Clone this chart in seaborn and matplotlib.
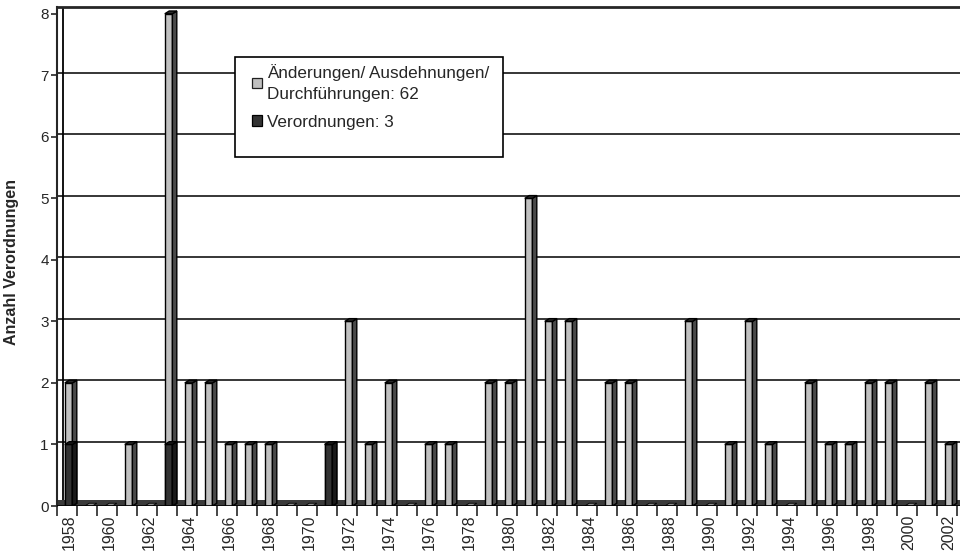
import numpy as np
import pandas as pd
import matplotlib
matplotlib.use("Agg")
import matplotlib.pyplot as plt
from matplotlib.patches import Polygon, Patch, Rectangle
import seaborn as sns

years = list(range(1958, 2003))
aenderungen = [1, 0, 0, 1, 0, 7, 2, 2, 1, 1, 1, 0, 0, 0, 3, 1, 2, 0, 1, 1, 0,
               2, 2, 5, 3, 3, 0, 2, 2, 0, 0, 3, 0, 1, 3, 1, 0, 2, 1, 1, 2, 2,
               0, 2, 1]
verordnungen = [1, 0, 0, 0, 0, 1, 0, 0, 0, 0, 0, 0, 0, 1, 0, 0, 0, 0, 0, 0, 0,
                0, 0, 0, 0, 0, 0, 0, 0, 0, 0, 0, 0, 0, 0, 0, 0, 0, 0, 0, 0, 0,
                0, 0, 0]
label_light = "Änderungen/ Ausdehnungen/\nDurchführungen: 62"
label_dark = "Verordnungen: 3"
ylabel = "Anzahl Verordnungen"

sns.set_style("white")
plt.rcParams["font.family"] = ["Liberation Sans", "DejaVu Sans"]

df = pd.DataFrame({"Jahr": [str(y) for y in years],
                   "light": aenderungen, "dark": verordnungen})
df["total"] = df["light"] + df["dark"]

W, H = 960, 556
fig = plt.figure(figsize=(W / 100, H / 100), dpi=100)
ax = fig.add_axes([57 / W, 50 / H, 903 / W, 499 / H])

light_c = "#c0c0c0"
dark_c = "#333333"
sns.barplot(data=df, x="Jahr", y="total", color=light_c, width=0.38,
            edgecolor="black", linewidth=1.0, saturation=1, ax=ax, zorder=3)
n_light = len(ax.patches)
sns.barplot(data=df, x="Jahr", y="dark", color=dark_c, width=0.38,
            edgecolor="black", linewidth=1.0, saturation=1, ax=ax, zorder=3)
bars = list(ax.patches)

ax.set_xlim(-0.5, 44.65)
ax.set_ylim(0, 8.11)

dy = 0.045
dx = 0.22

# 3D-like side and top faces from the drawn bars
for i, p in enumerate(bars):
    p.set_x(p.get_x() + 0.08)
    x0 = p.get_x()
    x1 = x0 + p.get_width()
    h = p.get_height()
    is_light = i < n_light
    if h <= 0:
        p.set_visible(False)
        if is_light:
            tile = Polygon([(x0, 0.0), (x0 + dx, dy), (x1 + dx, dy), (x1, 0.0)],
                           closed=True, facecolor="#8a8a8a", edgecolor="black",
                           linewidth=0.6, zorder=3)
            ax.add_patch(tile)
        continue
    side_c = "#4a4a4a" if is_light else "#1a1a1a"
    top_c = "#2a2a2a" if is_light else "#1a1a1a"
    side = Polygon([(x1, 0), (x1 + dx, dy), (x1 + dx, h + dy), (x1, h)],
                   closed=True, facecolor=side_c, edgecolor="black",
                   linewidth=1.0, zorder=3)
    top = Polygon([(x0, h), (x0 + dx, h + dy), (x1 + dx, h + dy), (x1, h)],
                  closed=True, facecolor=top_c, edgecolor="black",
                  linewidth=1.0, zorder=3)
    ax.add_patch(side)
    ax.add_patch(top)

# floor strip
ax.axhspan(0, 0.09, color="#3a3a3a", zorder=2, lw=0)

# gridlines on the back wall
for v in range(1, 8):
    ax.axhline(v + 0.04, color="black", lw=1.1, zorder=1)
ax.axvline(-0.2, color="black", lw=1.3, zorder=1)

for s in ["right", "bottom"]:
    ax.spines[s].set_visible(False)
ax.spines["left"].set_linewidth(1.5)
ax.spines["top"].set_linewidth(2.0)
ax.axhline(0, color="black", lw=1.2, zorder=4)

ax.set_yticks(range(0, 9))
ax.set_yticklabels([str(v) for v in range(0, 9)], fontsize=11)
ax.tick_params(axis="y", direction="out", length=4, width=1.2, pad=2,
               left=True)

ax.set_xticks(np.arange(0, len(years), 2) + 0.1)
ax.set_xticklabels([years[i] for i in range(0, len(years), 2)],
                   rotation=90, fontsize=11.5)
ax.set_xticks(np.arange(-0.5, len(years), 1.0), minor=True)
ax.tick_params(axis="x", which="major", length=0, pad=6)
ax.tick_params(axis="x", which="minor", direction="out", length=7,
               width=1.2, bottom=True)
ax.set_xlabel("")
ax.set_ylabel(ylabel, fontsize=11.5, fontweight="bold")
ax.yaxis.set_label_coords((19 - 57) / 903, (556 - 262 - 50) / 499)

# legend frame (pixel box 235..503 x 57..157)
frame = Rectangle((235 / W, 1 - 157 / H), 268 / W, 100 / H,
                  transform=fig.transFigure, facecolor="white",
                  edgecolor="black", linewidth=1.2, zorder=9, clip_on=False)
ax.add_patch(frame)

handles = [Patch(facecolor=light_c, edgecolor="#202020", linewidth=0.9),
           Patch(facecolor=dark_c, edgecolor="black", linewidth=0.9)]
leg = ax.legend(handles, [label_light, label_dark], loc="upper left",
                bbox_to_anchor=(252 / W, 1 - 64 / H),
                bbox_transform=fig.transFigure, fontsize=12.3,
                frameon=False, handlelength=0.6, handleheight=0.6,
                handletextpad=0.3, labelspacing=0.75, borderpad=0,
                borderaxespad=0)
leg.get_texts()[0].set_linespacing(1.5)
leg.set_zorder(10)

fig.savefig("out.png", dpi=100)
